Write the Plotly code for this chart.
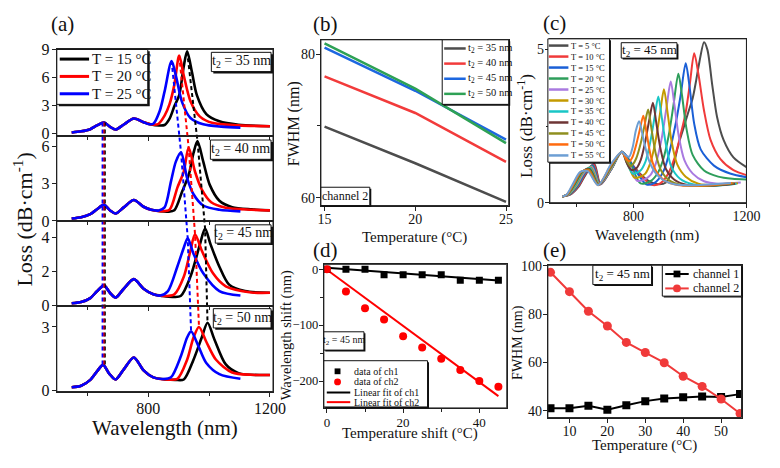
import plotly.graph_objects as go

W, H = 780, 468
FONT = "Liberation Serif"

# ---------------- (a) loss spectra for four t2 values ----------------
a_names = ["T = 15 °C", "T = 20 °C", "T = 25 °C"]
a_colors = ["#000000", "#ff0000", "#0000ff"]
a_t2 = ["35", "40", "45", "50"]

a35_wl_15 = [549, 580, 610, 632, 655, 675, 693, 720, 753, 785, 810, 835, 854, 870, 886, 902, 917, 928, 944, 960, 991, 1034, 1097, 1200]
a35_loss_15 = [0.1, 0.22, 0.45, 0.85, 1.17, 0.7, 0.41, 0.95, 1.59, 1.2, 0.95, 0.85, 0.9, 1.55, 2.9, 4.1, 7.2, 8.8, 6.55, 4.1, 2.07, 1.3, 0.93, 0.76]
a35_wl_20 = [549, 580, 610, 632, 655, 675, 693, 720, 753, 785, 812, 833, 854, 870, 886, 902, 917, 939, 970, 1013, 1097, 1200]
a35_loss_20 = [0.1, 0.22, 0.45, 0.85, 1.17, 0.7, 0.41, 0.95, 1.59, 1.2, 0.95, 1.0, 1.9, 3.1, 5.2, 8.34, 6.2, 3.45, 1.8, 1.1, 0.86, 0.76]
a35_wl_25 = [549, 580, 610, 632, 655, 675, 693, 720, 753, 785, 800, 817, 838, 854, 877, 891, 912, 939, 981, 1040, 1103]
a35_loss_25 = [0.1, 0.22, 0.45, 0.85, 1.17, 0.7, 0.41, 0.95, 1.59, 1.2, 1.0, 1.03, 2.4, 4.5, 7.76, 6.2, 3.3, 1.65, 0.97, 0.72, 0.62]

a40_wl_15 = [549, 580, 610, 632, 655, 675, 693, 720, 753, 785, 810, 840, 865, 886, 912, 933, 949, 962, 981, 1002, 1034, 1076, 1140, 1200]
a40_loss_15 = [0.2, 0.3, 0.55, 0.95, 1.3, 0.85, 0.6, 1.1, 1.7, 1.15, 0.9, 0.78, 0.75, 0.86, 2.4, 3.7, 5.5, 6.46, 4.8, 2.94, 1.64, 1.12, 0.94, 0.86]
a40_wl_20 = [549, 580, 610, 632, 655, 675, 693, 720, 753, 785, 810, 840, 870, 896, 917, 933, 954, 976, 1007, 1055, 1140, 1200]
a40_loss_20 = [0.2, 0.3, 0.55, 0.95, 1.3, 0.85, 0.6, 1.1, 1.7, 1.15, 0.9, 0.8, 0.9, 2.7, 4.0, 5.94, 3.98, 2.55, 1.51, 1.07, 0.91, 0.86]
a40_wl_25 = [549, 580, 610, 632, 655, 675, 693, 720, 753, 785, 810, 835, 854, 875, 891, 908, 928, 949, 981, 1034, 1103]
a40_loss_25 = [0.2, 0.3, 0.55, 0.95, 1.3, 0.85, 0.6, 1.1, 1.7, 1.15, 0.9, 0.85, 1.1, 3.2, 4.8, 5.55, 3.46, 2.16, 1.25, 0.91, 0.78]

a45_wl_15 = [549, 580, 610, 632, 655, 675, 693, 720, 753, 785, 817, 849, 880, 907, 939, 970, 987, 1005, 1034, 1066, 1118, 1200]
a45_loss_15 = [0.15, 0.22, 0.45, 0.85, 1.18, 0.75, 0.48, 1.0, 1.56, 1.0, 0.67, 0.57, 0.52, 0.57, 1.71, 3.6, 4.53, 3.6, 2.29, 1.24, 0.86, 0.76]
a45_wl_20 = [549, 580, 610, 632, 655, 675, 693, 720, 753, 785, 817, 849, 886, 917, 939, 954, 976, 1013, 1055, 1139, 1200]
a45_loss_20 = [0.15, 0.22, 0.45, 0.85, 1.18, 0.75, 0.48, 1.0, 1.56, 1.0, 0.67, 0.57, 0.67, 1.7, 3.24, 4.19, 3.24, 1.9, 1.14, 0.78, 0.76]
a45_wl_25 = [549, 580, 610, 632, 655, 675, 693, 720, 753, 785, 817, 840, 865, 896, 917, 930, 949, 981, 1034, 1103]
a45_loss_25 = [0.15, 0.22, 0.45, 0.85, 1.18, 0.75, 0.48, 1.0, 1.56, 1.0, 0.67, 0.6, 0.86, 2.3, 3.4, 3.96, 3.05, 1.9, 0.86, 0.6]

a50_wl_15 = [549, 580, 610, 632, 652, 672, 693, 720, 753, 785, 817, 860, 890, 917, 949, 976, 995, 1018, 1055, 1097, 1200]
a50_loss_15 = [0.15, 0.22, 0.5, 0.9, 1.21, 0.8, 0.52, 1.0, 1.56, 0.95, 0.62, 0.52, 0.5, 0.52, 1.45, 2.5, 3.2, 2.4, 1.23, 0.82, 0.73]
a50_wl_20 = [549, 580, 610, 632, 652, 672, 693, 720, 753, 785, 817, 860, 896, 928, 949, 967, 991, 1023, 1076, 1140, 1200]
a50_loss_20 = [0.15, 0.22, 0.5, 0.9, 1.21, 0.8, 0.52, 1.0, 1.56, 0.95, 0.62, 0.52, 0.55, 1.45, 2.5, 3.0, 2.3, 1.45, 0.85, 0.74, 0.73]
a50_wl_25 = [549, 580, 610, 632, 652, 672, 693, 720, 753, 785, 817, 850, 875, 907, 928, 941, 965, 991, 1034, 1103]
a50_loss_25 = [0.15, 0.22, 0.5, 0.9, 1.21, 0.8, 0.52, 1.0, 1.56, 0.95, 0.62, 0.54, 0.62, 1.6, 2.5, 2.79, 2.1, 1.3, 0.77, 0.55]

# peak positions joined by dashed lines across the four panels
a_ch1_wl_15 = [658, 658, 658, 658]
a_ch1_wl_20 = [654, 654, 654, 654]
a_ch1_wl_25 = [650, 650, 650, 650]
a_ch1_loss = [1.17, 1.3, 1.18, 1.21]
a_ch2_wl_15 = [928, 962, 987, 995]
a_ch2_loss_15 = [8.8, 6.46, 4.53, 3.2]
a_ch2_wl_20 = [902, 933, 954, 967]
a_ch2_loss_20 = [8.34, 5.94, 4.19, 3.0]
a_ch2_wl_25 = [877, 908, 930, 941]
a_ch2_loss_25 = [7.76, 5.55, 3.96, 2.79]

# ---------------- (b) FWHM of channel 2 ----------------
b_temp = [15, 20, 25]
b_fwhm_35 = [69.9, 64.8, 59.4]
b_fwhm_40 = [76.9, 71.8, 65.0]
b_fwhm_45 = [80.9, 74.9, 68.1]
b_fwhm_50 = [81.5, 75.2, 67.6]
b_names = ["t<sub>2</sub> = 35 nm", "t<sub>2</sub> = 40 nm", "t<sub>2</sub> = 45 nm", "t<sub>2</sub> = 50 nm"]
b_colors = ["#4d4d4d", "#f23b3b", "#1d67e0", "#2ea155"]

# ---------------- (c) spectra t2 = 45 nm, 5..55 °C ----------------
c_names = ["T = %d °C" % t for t in range(5, 60, 5)]
c_colors = ["#4d4d4d", "#f03a3a", "#1a5fd6", "#2e9e5b", "#a97ae0", "#c49a00",
            "#19c6c6", "#6e3535", "#8f8f1f", "#ff6b0f", "#6d9fd4"]
c_wl_5 = [548, 576, 606, 633, 661, 684, 722, 759, 790, 820, 852, 890, 915, 935, 958, 975, 992, 1010, 1021, 1033, 1050, 1062, 1079, 1096, 1119, 1154, 1200]
c_loss_5 = [0.2, 0.26, 0.52, 0.95, 1.27, 0.6, 1.1, 1.66, 1.3, 0.98, 0.72, 0.6, 0.66, 1.0, 1.85, 2.37, 2.89, 3.42, 3.94, 4.57, 5.24, 4.99, 3.84, 2.8, 2.05, 1.48, 1.16]
c_wl_10 = [548, 574, 604, 631, 659, 683, 722, 759, 790, 820, 865, 895, 920, 945, 965, 985, 1000, 1015, 1030, 1050, 1073, 1108, 1154, 1200]
c_loss_10 = [0.2, 0.26, 0.53, 0.96, 1.25, 0.6, 1.1, 1.66, 1.32, 0.95, 0.58, 0.63, 0.9, 1.45, 2.15, 2.95, 3.9, 4.88, 4.2, 3.0, 2.05, 1.42, 1.06, 0.9]
c_wl_15 = [548, 572, 602, 629, 656, 682, 722, 759, 788, 815, 845, 870, 890, 910, 930, 950, 967, 985, 998, 1015, 1038, 1085, 1142, 1200]
c_loss_15 = [0.2, 0.26, 0.54, 0.97, 1.22, 0.6, 1.1, 1.66, 1.35, 0.95, 0.6, 0.62, 0.78, 1.1, 1.75, 2.6, 3.5, 4.55, 3.84, 2.58, 1.74, 1.21, 0.95, 0.83]
c_wl_20 = [548, 571, 600, 627, 654, 681, 722, 759, 788, 825, 860, 885, 905, 925, 942, 959, 972, 988, 1010, 1050, 1100, 1150, 1200]
c_loss_20 = [0.2, 0.27, 0.55, 0.98, 1.2, 0.6, 1.1, 1.66, 1.3, 0.63, 0.7, 0.95, 1.4, 2.2, 3.2, 4.21, 3.5, 2.4, 1.55, 1.05, 0.85, 0.78, 0.76]
c_wl_25 = [548, 570, 598, 625, 652, 680, 722, 759, 785, 812, 835, 860, 880, 900, 917, 932, 945, 960, 980, 1010, 1050, 1100, 1180]
c_loss_25 = [0.2, 0.27, 0.56, 0.98, 1.17, 0.6, 1.12, 1.66, 1.25, 0.72, 0.74, 0.9, 1.3, 2.1, 3.1, 3.96, 3.2, 2.2, 1.4, 0.95, 0.7, 0.62, 0.66]
c_wl_30 = [548, 569, 596, 622, 649, 679, 722, 759, 782, 803, 822, 842, 860, 878, 894, 908, 920, 935, 955, 985, 1030, 1090, 1170]
c_loss_30 = [0.2, 0.27, 0.57, 0.99, 1.15, 0.6, 1.15, 1.66, 1.22, 0.82, 0.84, 0.95, 1.3, 2.0, 2.9, 3.7, 3.0, 2.0, 1.25, 0.85, 0.62, 0.57, 0.63]
c_wl_35 = [548, 568, 594, 620, 647, 678, 722, 759, 779, 797, 810, 825, 843, 860, 875, 888, 900, 915, 935, 965, 1010, 1080, 1165]
c_loss_35 = [0.2, 0.27, 0.58, 1.0, 1.13, 0.59, 1.18, 1.66, 1.25, 0.95, 0.97, 1.05, 1.35, 2.0, 2.8, 3.47, 2.8, 1.9, 1.15, 0.78, 0.6, 0.55, 0.62]
c_wl_40 = [548, 567, 592, 618, 645, 677, 722, 759, 776, 792, 810, 826, 842, 856, 869, 881, 896, 915, 945, 990, 1070, 1160]
c_loss_40 = [0.2, 0.27, 0.6, 1.0, 1.1, 0.58, 1.2, 1.66, 1.3, 1.07, 1.12, 1.4, 2.0, 2.7, 3.26, 2.6, 1.75, 1.1, 0.75, 0.58, 0.55, 0.62]
c_wl_45 = [548, 566, 590, 616, 643, 676, 722, 759, 775, 789, 798, 810, 826, 840, 852, 864, 879, 898, 928, 975, 1060, 1155]
c_loss_45 = [0.2, 0.27, 0.6, 1.0, 1.08, 0.58, 1.22, 1.66, 1.38, 1.2, 1.25, 1.45, 1.95, 2.55, 3.04, 2.4, 1.6, 1.05, 0.72, 0.57, 0.55, 0.63]
c_wl_50 = [548, 565, 588, 613, 640, 675, 722, 759, 773, 786, 797, 810, 823, 835, 847, 862, 882, 910, 955, 1050, 1150]
c_loss_50 = [0.2, 0.27, 0.61, 1.0, 1.05, 0.57, 1.25, 1.66, 1.45, 1.35, 1.5, 1.9, 2.4, 2.84, 2.25, 1.5, 1.0, 0.72, 0.58, 0.56, 0.64]
c_wl_55 = [548, 564, 586, 611, 638, 675, 722, 759, 772, 785, 797, 809, 820, 836, 853, 876, 905, 950, 1020, 1080, 1145]
c_loss_55 = [0.2, 0.27, 0.62, 1.0, 1.03, 0.57, 1.28, 1.66, 1.55, 1.5, 1.8, 2.37, 2.66, 2.05, 1.43, 1.0, 0.74, 0.59, 0.57, 0.6, 0.64]

# ---------------- (d) wavelength shift ----------------
d_temp = [0, 5, 10, 15, 20, 25, 30, 35, 40, 45]
d_ch1 = [0, 0, 0, -10, -10, -10, -10, -20, -20, -20]
d_ch2 = [0, -40, -70, -90, -120, -140, -160, -180, -200, -210]
d_fit_temp = [0, 45]
d_fit_ch1 = [2.5, -20.5]
d_fit_ch2 = [-1, -227]

# ---------------- (e) FWHM vs temperature ----------------
e_temp = [5, 10, 15, 20, 25, 30, 35, 40, 45, 50, 55]
e_ch1 = [41.1, 41.1, 42.1, 40.4, 42.3, 44.0, 45.1, 45.6, 45.9, 45.7, 46.9]
e_ch2 = [97.3, 89.3, 81.2, 75.1, 68.3, 64.1, 59.9, 54.3, 50.1, 44.9, 38.9]


def fx(p):
    return p / W


def fy(p):
    return 1 - p / H


def axis(dom, anchor, rng, tickvals, minor=None, size=14, labels=True, standoff=0):
    d = dict(domain=dom, anchor=anchor, range=rng, tickvals=tickvals,
             showline=True, linecolor="#222", linewidth=1, mirror=True,
             ticks="outside", ticklen=4, tickwidth=1, tickcolor="#222",
             showgrid=False, zeroline=False, showticklabels=labels,
             ticklabelstandoff=standoff,
             tickfont=dict(family=FONT, size=size, color="#111"))
    if minor:
        d["minor"] = dict(tickvals=minor, ticks="outside", ticklen=3, tickcolor="#222", showgrid=False)
    return d


fig = go.Figure()

# (a) four stacked panels
a_doms = [(43, 133), (133, 221), (221, 309), (309, 398)]
a_ranges = [[-0.3, 9.0], [0, 6.86], [0, 4.97], [-0.05, 4.0]]
a_yticks = [[0, 3, 6, 9], [0, 3, 6], [0, 2, 4], [0, 3]]
a_data = [
    [(a35_wl_15, a35_loss_15), (a35_wl_20, a35_loss_20), (a35_wl_25, a35_loss_25)],
    [(a40_wl_15, a40_loss_15), (a40_wl_20, a40_loss_20), (a40_wl_25, a40_loss_25)],
    [(a45_wl_15, a45_loss_15), (a45_wl_20, a45_loss_20), (a45_wl_25, a45_loss_25)],
    [(a50_wl_15, a50_loss_15), (a50_wl_20, a50_loss_20), (a50_wl_25, a50_loss_25)],
]
frames = [(55, 276, top, bot) for top, bot in a_doms]
layout_axes = {}
for k in range(4):
    n = "" if k == 0 else str(k + 1)
    top, bot = a_doms[k]
    layout_axes["xaxis" + n] = axis([fx(55), fx(276)], "y" + n, [500, 1210], [800, 1200],
                                   minor=[600, 1000], size=16, labels=(k == 3), standoff=-2)
    layout_axes["yaxis" + n] = axis([fy(bot), fy(top)], "x" + n, a_ranges[k], a_yticks[k],
                                   size=16, standoff=-1)
    for (wl, loss), col in zip(a_data[k], a_colors):
        fig.add_trace(go.Scatter(x=wl, y=loss, mode="lines", xaxis="x" + n, yaxis="y" + n,
                                 line=dict(color=col, width=2.6, shape="spline", smoothing=0.8)))


def to_paper(vals):
    out = []
    for v, (top, bot), (r0, r1) in zip(vals, a_doms, a_ranges):
        yb, yt = fy(bot), fy(top)
        out.append(yb + (v - r0) / (r1 - r0) * (yt - yb))
    return out


# overlay axis spanning all four panels, for the dashed peak-tracking lines
layout_axes["xaxis9"] = dict(domain=[fx(55), fx(276)], anchor="y9", range=[500, 1210], visible=False)
layout_axes["yaxis9"] = dict(domain=[fy(398), fy(43)], anchor="x9", range=[fy(398), fy(43)], visible=False)
for wl, col in zip([a_ch1_wl_15, a_ch1_wl_20, a_ch1_wl_25], a_colors):
    fig.add_trace(go.Scatter(x=wl, y=to_paper(a_ch1_loss), mode="lines", xaxis="x9", yaxis="y9",
                             line=dict(color=col, width=1.8, dash="4px,3px")))
for wl, loss, col in zip([a_ch2_wl_15, a_ch2_wl_20, a_ch2_wl_25],
                         [a_ch2_loss_15, a_ch2_loss_20, a_ch2_loss_25], a_colors):
    fig.add_trace(go.Scatter(x=wl, y=to_paper(loss), mode="lines", xaxis="x9", yaxis="y9",
                             line=dict(color=col, width=2, dash="4px,3px")))

# (b)
frames.append((325, 517, 33, 205))
layout_axes["xaxis5"] = axis([fx(325), fx(517)], "y5", [14.8, 25.15], [15, 20, 25], size=14, standoff=-3)
layout_axes["yaxis5"] = axis([fy(205), fy(33)], "x5", [58.9, 82], [60, 80], minor=[70], size=14, standoff=-2)
for ys, col in zip([b_fwhm_35, b_fwhm_40, b_fwhm_45, b_fwhm_50], b_colors):
    fig.add_trace(go.Scatter(x=b_temp, y=ys, mode="lines", xaxis="x5", yaxis="y5",
                             line=dict(color=col, width=2.5)))

# (c)
frames.append((559, 760, 32, 202))
layout_axes["xaxis6"] = axis([fx(559), fx(760)], "y6", [504, 1200], [800, 1200], minor=[600, 1000],
                             size=14, standoff=-3)
layout_axes["yaxis6"] = axis([fy(202), fy(32)], "x6", [0, 5.35], [0, 5], minor=[2.5], size=14, standoff=-2)
c_series = [(c_wl_5, c_loss_5), (c_wl_10, c_loss_10), (c_wl_15, c_loss_15), (c_wl_20, c_loss_20),
            (c_wl_25, c_loss_25), (c_wl_30, c_loss_30), (c_wl_35, c_loss_35), (c_wl_40, c_loss_40),
            (c_wl_45, c_loss_45), (c_wl_50, c_loss_50), (c_wl_55, c_loss_55)]
for (wl, loss), col in zip(c_series, c_colors):
    fig.add_trace(go.Scatter(x=wl, y=loss, mode="lines", xaxis="x6", yaxis="y6",
                             line=dict(color=col, width=2, shape="spline", smoothing=0.8)))

# (d)
frames.append((328, 515, 266, 415))
layout_axes["xaxis7"] = axis([fx(328), fx(515)], "y7", [-0.8, 47.2], [0, 20, 40], minor=[10, 30],
                             size=13, standoff=-2)
layout_axes["yaxis7"] = axis([fy(415), fy(266)], "x7", [-248, 8.6], [-200, -100, 0], minor=[-150, -50],
                             size=12.5, standoff=-2)
fig.add_trace(go.Scatter(x=d_fit_temp, y=d_fit_ch1, mode="lines", xaxis="x7", yaxis="y7",
                         line=dict(color="#000", width=2)))
fig.add_trace(go.Scatter(x=d_fit_temp, y=d_fit_ch2, mode="lines", xaxis="x7", yaxis="y7",
                         line=dict(color="#ff0000", width=2)))
fig.add_trace(go.Scatter(x=d_temp, y=d_ch1, mode="markers", xaxis="x7", yaxis="y7",
                         marker=dict(symbol="square", size=7, color="#000")))
fig.add_trace(go.Scatter(x=d_temp, y=d_ch2, mode="markers", xaxis="x7", yaxis="y7",
                         marker=dict(symbol="circle", size=8, color="#ff0000")))

# (e)
frames.append((557, 755, 267, 425))
layout_axes["xaxis8"] = axis([fx(557), fx(755)], "y8", [4.3, 55.4], [10, 20, 30, 40, 50],
                             size=14, standoff=-3)
layout_axes["yaxis8"] = axis([fy(425), fy(267)], "x8", [37.2, 100.2], [40, 60, 80, 100], size=14, standoff=-2)
fig.add_trace(go.Scatter(x=e_temp, y=e_ch1, mode="lines+markers", xaxis="x8", yaxis="y8",
                         line=dict(color="#000", width=2),
                         marker=dict(symbol="square", size=8, color="#000")))
fig.add_trace(go.Scatter(x=e_temp, y=e_ch2, mode="lines+markers", xaxis="x8", yaxis="y8",
                         line=dict(color="#f03a3a", width=2),
                         marker=dict(symbol="circle", size=9, color="#f03a3a")))

fig.update_layout(width=W, height=H, margin=dict(l=0, r=0, t=0, b=0), autosize=False,
                  paper_bgcolor="white", plot_bgcolor="rgba(0,0,0,0)", showlegend=False,
                  font=dict(family=FONT, color="#111"), **layout_axes)

# panel frames
for x0, x1, y0, y1 in frames:
    fig.add_shape(type="rect", xref="paper", yref="paper", x0=fx(x0), x1=fx(x1), y0=fy(y1), y1=fy(y0),
                  line=dict(color="#222", width=1), fillcolor="rgba(0,0,0,0)", layer="above")


# ---------------- boxes, legends and text ----------------
def box(x0, y0, x1, y1, shadow=2):
    if shadow:
        fig.add_shape(type="rect", xref="paper", yref="paper", x0=fx(x0 + shadow), x1=fx(x1 + shadow),
                      y0=fy(y1 + shadow), y1=fy(y0 + shadow), fillcolor="#111", line_width=0, layer="above")
    fig.add_shape(type="rect", xref="paper", yref="paper", x0=fx(x0), x1=fx(x1), y0=fy(y1), y1=fy(y0),
                  fillcolor="white", line=dict(color="#111", width=1), layer="above")


def text(x, y, s, size, anchor="left", angle=0):
    fig.add_annotation(x=fx(x), y=fy(y), xref="paper", yref="paper", text=s, showarrow=False,
                       xanchor=anchor, yanchor="middle", textangle=angle,
                       font=dict(family=FONT, size=size, color="#111"))


def swatch(x0, x1, y, color, width):
    fig.add_shape(type="line", xref="paper", yref="paper", x0=fx(x0), x1=fx(x1), y0=fy(y), y1=fy(y),
                  line=dict(color=color, width=width), layer="above")


def dot(x, y, r, color, kind):
    fig.add_shape(type=kind, xref="paper", yref="paper", x0=fx(x - r), x1=fx(x + r),
                  y0=fy(y + r), y1=fy(y - r), fillcolor=color, line_width=0, layer="above")


# legend (a)
box(55, 43, 148, 100)
for i, (name, col) in enumerate(zip(a_names, a_colors)):
    y = 53 + 18 * i
    swatch(58, 88, y, col, 3)
    text(89, y, name, 15)
# t2 labels in (a)
for (x0, y0, x1, y1), t2 in zip([(213, 46, 274, 66), (212, 137, 274, 157), (217, 225, 274, 244), (215, 312, 274, 332)], a_t2):
    box(x0, y0, x1, y1)
    text((x0 + x1) / 2, (y0 + y1) / 2, "t<sub>2</sub> = %s nm" % t2, 14, anchor="center")

# legend (b)
box(449, 33, 517, 100, shadow=1.5)
for i, (name, col) in enumerate(zip(b_names, b_colors)):
    y = 42 + 15.7 * i
    swatch(451, 473, y, col, 2.5)
    text(473, y, name, 10.5)
box(325, 186, 375, 205, shadow=1.5)
text(350, 195.5, "channel 2", 12, anchor="center")

# legend (c)
box(557, 32, 620, 160, shadow=1.5)
for i, (name, col) in enumerate(zip(c_names, c_colors)):
    y = 39 + 11.4 * i
    swatch(558, 578, y, col, 2.5)
    text(579, y, name, 8.5)
box(632, 36, 689, 52, shadow=1.5)
text(660.5, 44, "t<sub>2</sub> = 45 nm", 13, anchor="center")

# legend (d)
box(328, 336, 369, 355, shadow=1.5)
text(348.5, 345.5, "t<sub>2</sub> = 45 nm", 10, anchor="center")
box(328, 366, 434, 414, shadow=1.5)
dot(342, 377, 3, "#000", "rect")
text(357, 377, "data of ch1", 10)
dot(342, 388, 3.5, "#ff0000", "circle")
text(357, 388, "data of ch2", 10)
swatch(331, 355, 399, "#000", 2)
text(357, 399, "Linear fit of ch1", 10)
swatch(331, 355, 409, "#ff0000", 2)
text(357, 409, "Linear fit of ch2", 10)

# legend (e)
box(603, 267, 663, 287, shadow=1.5)
text(633, 277, "t<sub>2</sub> = 45 nm", 13, anchor="center")
box(674, 267, 755, 299, shadow=1.5)
swatch(677, 701, 276, "#000", 2)
dot(689, 276, 3.5, "#000", "rect")
text(703, 276, "channel 1", 12)
swatch(677, 701, 291, "#f03a3a", 2)
dot(689, 291, 4, "#f03a3a", "circle")
text(703, 291, "channel 2", 12)

# panel letters
for s, x, y in [("(a)", 61, 17), ("(b)", 330, 17), ("(c)", 564, 16), ("(d)", 330, 251), ("(e)", 564, 251)]:
    text(x, y, s, 21, anchor="center")

# axis titles
text(20, 220, "Loss (dB·cm<sup>-1</sup>)", 22, anchor="center", angle=-90)
text(166, 436, "Wavelength (nm)", 21, anchor="center")
text(297, 120, "FWHM (nm)", 16, anchor="center", angle=-90)
text(421, 238, "Temperature (°C)", 15, anchor="center")
text(533, 122, "Loss (dB·cm<sup>-1</sup>)", 17, anchor="center", angle=-90)
text(658, 236, "Wavelength (nm)", 15, anchor="center")
text(290, 340, "Wavelength shift (nm)", 14.5, anchor="center", angle=-90)
text(416, 442, "Temperature shift (°C)", 15, anchor="center")
text(527, 347, "FWHM (nm)", 14, anchor="center", angle=-90)
text(656, 454, "Temperature (°C)", 15, anchor="center")

# page body margin would otherwise push the 780x468 figure off the window
fig.write_html("out.html", config={"displayModeBar": False},
               post_script="document.body.style.margin='0';document.body.style.overflow='hidden';")
